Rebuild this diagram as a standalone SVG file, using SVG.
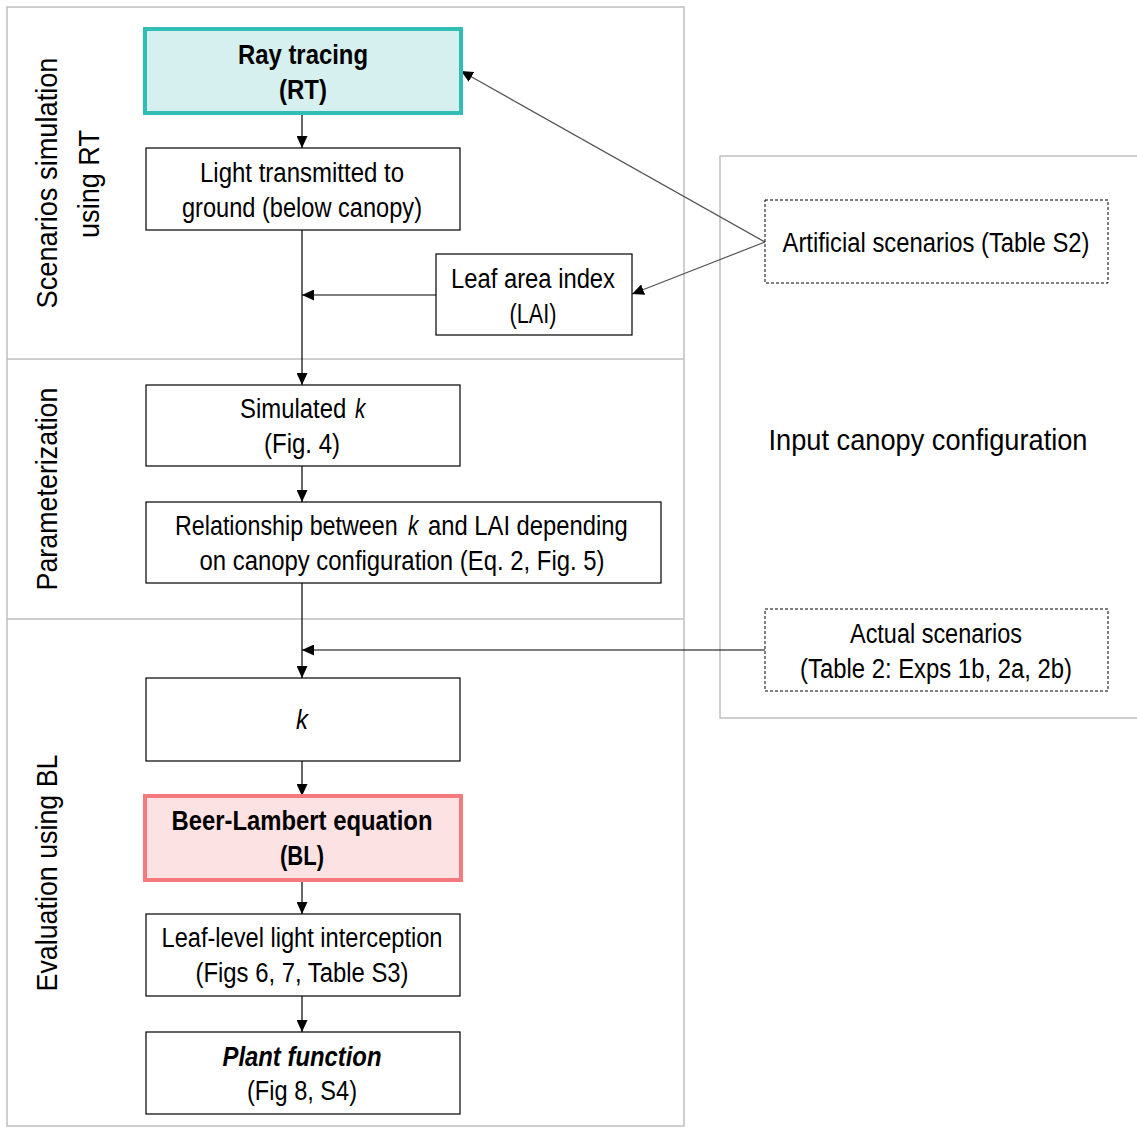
<svg xmlns="http://www.w3.org/2000/svg" width="1137" height="1128" viewBox="0 0 1137 1128">
<defs>
<marker id="ah" markerWidth="12" markerHeight="11" refX="12" refY="5.5" orient="auto" markerUnits="userSpaceOnUse">
<path d="M0,0 L12,5.5 L0,11 z" fill="#000"/>
</marker>
<style>
.panel{fill:none;stroke:#bfbfbf;stroke-width:1.5}
.box{fill:#fff;stroke:#000;stroke-width:1.2}
.dash{fill:#fff;stroke:#000;stroke-width:1;stroke-dasharray:3,2}
.rt{fill:#d6efef;stroke:#2fbdb6;stroke-width:4}
.bl{fill:#fde2e4;stroke:#f47a7d;stroke-width:4}
.t{font-family:"Liberation Sans",Arial,sans-serif;font-size:27px;text-anchor:middle;fill:#000}
.s{text-anchor:start}
.b{font-weight:bold}
.i{font-style:italic}
.lab{font-family:"Liberation Sans",Arial,sans-serif;font-size:30px;text-anchor:middle;fill:#000}
.c{fill:none;stroke:#000;stroke-width:1.2}
.g{fill:none;stroke:#555;stroke-width:1.2}
</style>
</defs>
<rect width="1137" height="1128" fill="#fff"/>
<g id="panels">
<rect class="panel" x="7" y="7" width="677" height="1119"/>
<line class="panel" x1="7" y1="359" x2="684" y2="359"/>
<line class="panel" x1="7" y1="619" x2="684" y2="619"/>
<rect class="panel" x="720" y="156" width="430" height="562"/>
<text class="lab" transform="translate(57,183) rotate(-90)" textLength="251" lengthAdjust="spacingAndGlyphs">Scenarios simulation</text>
<text class="lab" transform="translate(99,184) rotate(-90)" textLength="108" lengthAdjust="spacingAndGlyphs">using RT</text>
<text class="lab" transform="translate(57,489) rotate(-90)" textLength="203" lengthAdjust="spacingAndGlyphs">Parameterization</text>
<text class="lab" transform="translate(57,873) rotate(-90)" textLength="237" lengthAdjust="spacingAndGlyphs">Evaluation using BL</text>
<text class="t" x="928" y="450" style="font-size:29px" textLength="319" lengthAdjust="spacingAndGlyphs">Input canopy configuration</text>
</g>
<g id="connectors">
<line class="c" x1="302" y1="114" x2="302" y2="148" marker-end="url(#ah)"/>
<line class="c" x1="302" y1="230" x2="302" y2="385" marker-end="url(#ah)"/>
<line class="c" x1="436" y1="295" x2="302" y2="295" marker-end="url(#ah)"/>
<line class="g" x1="765" y1="242" x2="461" y2="71" marker-end="url(#ah)"/>
<line class="g" x1="765" y1="242" x2="632" y2="294" marker-end="url(#ah)"/>
<line class="c" x1="302" y1="466" x2="302" y2="502" marker-end="url(#ah)"/>
<line class="c" x1="302" y1="583" x2="302" y2="678" marker-end="url(#ah)"/>
<line class="c" x1="765" y1="650" x2="302" y2="650" marker-end="url(#ah)"/>
<line class="c" x1="302" y1="761" x2="302" y2="796" marker-end="url(#ah)"/>
<line class="c" x1="302" y1="880" x2="302" y2="914" marker-end="url(#ah)"/>
<line class="c" x1="302" y1="996" x2="302" y2="1032" marker-end="url(#ah)"/>
</g>
<g id="rt">
<rect class="rt" x="145" y="29" width="316" height="84"/>
<text class="t b" x="303" y="64" textLength="130" lengthAdjust="spacingAndGlyphs">Ray tracing</text>
<text class="t b" x="303" y="99" textLength="48" lengthAdjust="spacingAndGlyphs">(RT)</text>
</g>
<g id="light">
<rect class="box" x="146" y="148" width="314" height="82"/>
<text class="t" x="302" y="182" textLength="204" lengthAdjust="spacingAndGlyphs">Light transmitted to</text>
<text class="t" x="302" y="217" textLength="240" lengthAdjust="spacingAndGlyphs">ground (below canopy)</text>
</g>
<g id="lai">
<rect class="box" x="436" y="254" width="196" height="81"/>
<text class="t" x="533" y="288" textLength="164" lengthAdjust="spacingAndGlyphs">Leaf area index</text>
<text class="t" x="533" y="323" textLength="47" lengthAdjust="spacingAndGlyphs">(LAI)</text>
</g>
<g id="artificial">
<rect class="dash" x="765" y="200" width="343" height="83"/>
<text class="t" x="936" y="252" textLength="307" lengthAdjust="spacingAndGlyphs">Artificial scenarios (Table S2)</text>
</g>
<g id="simk">
<rect class="box" x="146" y="385" width="314" height="81"/>
<text class="t s" transform="translate(240,418) scale(0.85,1)" textLength="125" lengthAdjust="spacingAndGlyphs">Simulated</text>
<text class="t s i" transform="translate(355,418) scale(0.8,1)" textLength="13" lengthAdjust="spacingAndGlyphs">k</text>
<text class="t" x="302" y="453" textLength="76" lengthAdjust="spacingAndGlyphs">(Fig. 4)</text>
</g>
<g id="relationship">
<rect class="box" x="146" y="502" width="515" height="81"/>
<text class="t s" transform="translate(175,535) scale(0.85,1)" textLength="262" lengthAdjust="spacingAndGlyphs">Relationship between</text>
<text class="t s i" transform="translate(408,535) scale(0.8,1)" textLength="13" lengthAdjust="spacingAndGlyphs">k</text>
<text class="t s" transform="translate(428,535) scale(0.85,1)" textLength="235" lengthAdjust="spacingAndGlyphs">and LAI depending</text>
<text class="t" x="402" y="570" textLength="405" lengthAdjust="spacingAndGlyphs">on canopy configuration (Eq. 2, Fig. 5)</text>
</g>
<g id="actual">
<rect class="dash" x="765" y="609" width="343" height="82"/>
<text class="t" x="936" y="643" textLength="172" lengthAdjust="spacingAndGlyphs">Actual scenarios</text>
<text class="t" x="936" y="678" textLength="272" lengthAdjust="spacingAndGlyphs">(Table 2: Exps 1b, 2a, 2b)</text>
</g>
<g id="k">
<rect class="box" x="146" y="678" width="314" height="83"/>
<text class="t i" x="302" y="729" textLength="12" lengthAdjust="spacingAndGlyphs">k</text>
</g>
<g id="bl">
<rect class="bl" x="145" y="796" width="316" height="84"/>
<text class="t b" x="302" y="830" textLength="261" lengthAdjust="spacingAndGlyphs">Beer-Lambert equation</text>
<text class="t b" x="302" y="865" textLength="44" lengthAdjust="spacingAndGlyphs">(BL)</text>
</g>
<g id="leaf">
<rect class="box" x="146" y="914" width="314" height="82"/>
<text class="t" x="302" y="947" textLength="281" lengthAdjust="spacingAndGlyphs">Leaf-level  light  interception</text>
<text class="t" x="302" y="982" textLength="213" lengthAdjust="spacingAndGlyphs">(Figs 6, 7, Table  S3)</text>
</g>
<g id="plant">
<rect class="box" x="146" y="1032" width="314" height="82"/>
<text class="t b i" x="302" y="1066" textLength="159" lengthAdjust="spacingAndGlyphs">Plant function</text>
<text class="t" x="302" y="1100" textLength="110" lengthAdjust="spacingAndGlyphs">(Fig 8, S4)</text>
</g>
</svg>
